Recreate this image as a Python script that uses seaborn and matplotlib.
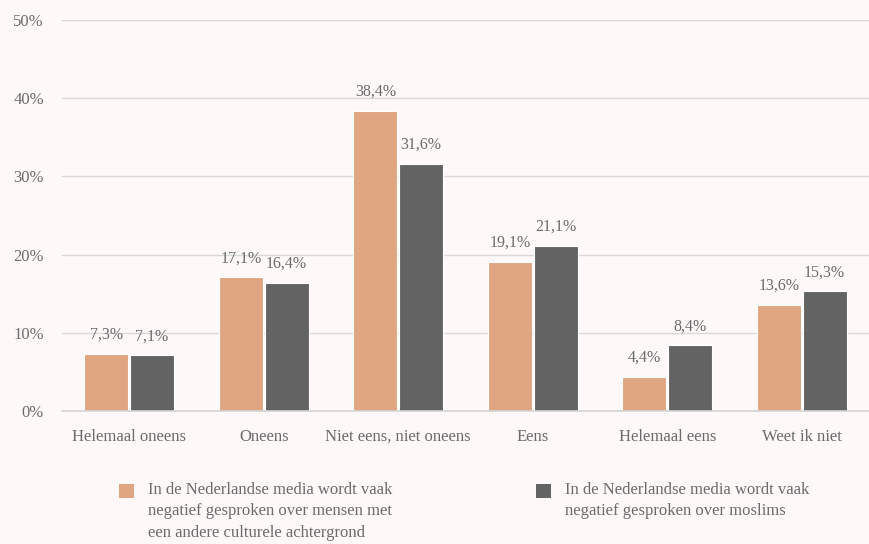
import matplotlib.pyplot as plt
import seaborn as sns
import pandas as pd
from matplotlib.patches import Rectangle

categories = ["Helemaal oneens", "Oneens", "Niet eens, niet oneens", "Eens", "Helemaal eens", "Weet ik niet"]
series_names = [
    "In de Nederlandse media wordt vaak\nnegatief gesproken over mensen met\neen andere culturele achtergrond",
    "In de Nederlandse media wordt vaak\nnegatief gesproken over moslims",
]
culturele = [7.3, 17.1, 38.4, 19.1, 4.4, 13.6]
moslims = [7.1, 16.4, 31.6, 21.1, 8.4, 15.3]
colors = ["#E0A581", "#636363"]

df = pd.DataFrame({
    "categorie": categories * 2,
    "reeks": [series_names[0]] * 6 + [series_names[1]] * 6,
    "waarde": culturele + moslims,
})

bg = "#FEF9F8"
txt = "#6b6b6b"
sns.set_style("white")
plt.rcParams["font.family"] = ["Liberation Serif", "DejaVu Serif"]

fig = plt.figure(figsize=(8.69, 5.44), dpi=100, facecolor=bg)
ax = fig.add_axes([62 / 869, 1 - 411 / 544, 1 - 62 / 869, 391 / 544])
ax.set_facecolor(bg)

sns.barplot(data=df, x="categorie", y="waarde", hue="reeks", order=categories,
            hue_order=series_names, palette=colors, saturation=1, width=0.68, gap=0.04,
            edgecolor="white", linewidth=0.8, ax=ax, legend=False)

for cont in ax.containers:
    ax.bar_label(cont, labels=[f"{v:.1f}%".replace(".", ",") for v in cont.datavalues],
                 padding=8, fontsize=11.5, color=txt)

ax.set_ylim(0, 50)
ax.set_xlim(-0.5, 5.5)
ax.set_yticks([0, 10, 20, 30, 40, 50])
ax.set_yticklabels([f"{t}%" for t in range(0, 51, 10)])
ax.yaxis.grid(True, color="#d9d9d9", linewidth=1)
ax.set_axisbelow(True)
ax.set_xlabel("")
ax.set_ylabel("")
for s in ["top", "right", "left"]:
    ax.spines[s].set_visible(False)
ax.spines["bottom"].set_color("#d4d4d4")
ax.spines["bottom"].set_linewidth(1.2)
ax.set_xticks([i - 0.5 for i in range(7)], minor=True)
ax.tick_params(axis="x", which="minor", length=5, color="#d4d4d4", width=1.2)
ax.tick_params(axis="x", which="major", length=0, pad=13, labelsize=12, labelcolor=txt)
ax.tick_params(axis="y", length=0, pad=13, labelsize=12, labelcolor=txt)

# legend, drawn below the plot
for i, (name, col) in enumerate(zip(series_names, colors)):
    x0 = [119, 536][i]
    fig.add_artist(Rectangle((x0 / 869, 1 - 498 / 544), 15 / 869, 14 / 544,
                             transform=fig.transFigure, facecolor=col, edgecolor="none"))
    fig.text((x0 + 29) / 869, 1 - 482 / 544, name, ha="left", va="top",
             fontsize=12, color=txt, linespacing=1.45)

fig.savefig("out.png", dpi=100, facecolor=bg)
